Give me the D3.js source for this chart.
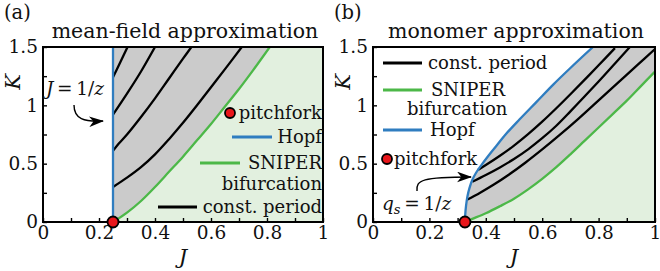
<!DOCTYPE html>
<html>
<head>
<meta charset="utf-8">
<script src="https://cdn.jsdelivr.net/npm/d3@7"></script>
<style>
  body { margin: 0; background: #fff; }
  text { font-family: "DejaVu Serif", serif; fill: #111; }
</style>
</head>
<body>
<svg id="chart" width="660" height="271"></svg>
<script>
// ---- data ----
const xMajor = [0, 0.2, 0.4, 0.6, 0.8, 1];
const xMinor = [0.1, 0.3, 0.5, 0.7, 0.9];
const yMajor = [0, 0.5, 1, 1.5];
const yMinor = [0.25, 0.75, 1.25];

// (a) mean-field
const mfHopfJ = 0.25;
const mfSniperJ = [0.25, 0.30, 0.35, 0.40, 0.45, 0.50, 0.55, 0.60, 0.65, 0.70, 0.75, 0.81];
const mfSniperK = [0, 0.08, 0.18, 0.30, 0.43, 0.56, 0.70, 0.84, 0.99, 1.14, 1.30, 1.50];
const mfPeriod = [
  { J: [0.25, 0.27, 0.29, 0.302], K: [1.24, 1.34, 1.44, 1.50] },
  { J: [0.25, 0.30, 0.35, 0.40], K: [0.92, 1.10, 1.29, 1.50] },
  { J: [0.25, 0.27, 0.30, 0.35, 0.40, 0.45, 0.50, 0.53], K: [0.61, 0.67, 0.75, 0.90, 1.06, 1.23, 1.40, 1.50] },
  { J: [0.25, 0.30, 0.35, 0.40, 0.45, 0.50, 0.55, 0.60, 0.65, 0.71], K: [0.30, 0.38, 0.47, 0.58, 0.71, 0.85, 1.00, 1.155, 1.31, 1.50] }
];
const mfPitchfork = [0.25, 0];

// (b) monomer
const moHopfJ = [0.326, 0.327, 0.330, 0.335, 0.342, 0.352, 0.365, 0.385, 0.41, 0.44, 0.47, 0.52, 0.58, 0.64, 0.70, 0.78];
const moHopfK = [0, 0.06, 0.14, 0.22, 0.29, 0.36, 0.42, 0.49, 0.57, 0.66, 0.75, 0.88, 1.03, 1.18, 1.32, 1.50];
const moSniperJ = [0.326, 0.35, 0.40, 0.45, 0.50, 0.55, 0.60, 0.65, 0.70, 0.75, 0.80, 0.85, 0.90, 0.95, 1.0];
const moSniperK = [0, 0.025, 0.075, 0.135, 0.20, 0.28, 0.37, 0.47, 0.58, 0.695, 0.81, 0.925, 1.04, 1.165, 1.29];
const moPeriod = [
  { J: [0.372, 0.40, 0.45, 0.50, 0.55, 0.60, 0.65, 0.70, 0.75, 0.80, 0.858],
    K: [0.446, 0.488, 0.568, 0.655, 0.753, 0.86, 0.975, 1.095, 1.218, 1.343, 1.49] },
  { J: [0.352, 0.40, 0.45, 0.50, 0.55, 0.60, 0.65, 0.70, 0.75, 0.80, 0.85, 0.911],
    K: [0.345, 0.403, 0.468, 0.540, 0.623, 0.718, 0.825, 0.948, 1.075, 1.205, 1.338, 1.50] },
  { J: [0.333, 0.38, 0.43, 0.48, 0.54, 0.60, 0.66, 0.73, 0.80, 0.87, 0.94, 1.0],
    K: [0.19, 0.251, 0.323, 0.403, 0.508, 0.622, 0.742, 0.889, 1.043, 1.197, 1.351, 1.483] }
];
const moPitchfork = [0.326, 0];

const colBlue = "#2f7dc0";
const colGreen = "#4cb848";
const colFill = "#e2f0df";
const colGray = "#cbcbcb";
const colRed = "#e8161b";

const svg = d3.select("#chart");
const zip = (a, b) => a.map((v, i) => [v, b[i]]);

function panel(opts) {
  const x = d3.scaleLinear().domain([0, 1]).range([opts.x0, opts.x1]);
  const y = d3.scaleLinear().domain([0, 1.5]).range([222, 47]);
  const g = svg.append("g");
  const line = d3.line().x(d => x(d[0])).y(d => y(d[1])).curve(d3.curveCatmullRom);
  const clipId = "clip" + opts.name;
  svg.append("clipPath").attr("id", clipId)
    .append("rect").attr("x", x(0)).attr("y", y(1.5))
    .attr("width", x(1) - x(0)).attr("height", y(0) - y(1.5));
  const inner = g.append("g").attr("clip-path", `url(#${clipId})`);

  const sn = zip(opts.sniperJ, opts.sniperK);
  const snEnd = sn[sn.length - 1];
  const rev = p => line(p.slice().reverse()).replace(/^M/, "L");

  // light green region right of SNIPER
  let gp = line(sn);
  if (snEnd[1] >= 1.5) gp += `L${x(1)},${y(1.5)}`;
  gp += `L${x(1)},${y(0)}Z`;
  inner.append("path").attr("d", gp).attr("fill", colFill);

  // grey oscillating region
  let hp;
  if (opts.hopfK) {
    const ho = zip(opts.hopfJ, opts.hopfK);
    hp = line(ho) + `L${x(1)},${y(1.5)}`;
    if (snEnd[1] < 1.5) hp += `L${x(1)},${y(snEnd[1])}`;
  } else {
    hp = `M${x(opts.hopfJ)},${y(0)}L${x(opts.hopfJ)},${y(1.5)}L${x(snEnd[0])},${y(1.5)}`;
  }
  hp += rev(sn) + "Z";
  inner.append("path").attr("d", hp).attr("fill", colGray);

  // constant period curves
  opts.period.forEach(c => {
    inner.append("path").attr("d", line(zip(c.J, c.K)))
      .attr("fill", "none").attr("stroke", "#000").attr("stroke-width", 2.3);
  });
  inner.append("path").attr("d", line(sn))
    .attr("fill", "none").attr("stroke", colGreen).attr("stroke-width", 2.3);
  if (opts.hopfK) {
    inner.append("path").attr("d", line(zip(opts.hopfJ, opts.hopfK)))
      .attr("fill", "none").attr("stroke", colBlue).attr("stroke-width", 2.3);
  } else {
    inner.append("line").attr("x1", x(opts.hopfJ)).attr("x2", x(opts.hopfJ))
      .attr("y1", y(0)).attr("y2", y(1.5))
      .attr("stroke", colBlue).attr("stroke-width", 2.3);
  }

  // axes, ticks pointing inward
  const fmt = d => d3.format("~g")(d);
  const xa = g.append("g").attr("transform", `translate(0,${y(0)})`)
    .call(d3.axisBottom(x).tickValues(xMajor).tickFormat(fmt).tickSizeInner(-4).tickSizeOuter(0).tickPadding(3));
  g.append("g").attr("transform", `translate(0,${y(0)})`)
    .call(d3.axisBottom(x).tickValues(xMinor).tickFormat("").tickSizeInner(-4).tickSizeOuter(0));
  const ya = g.append("g").attr("transform", `translate(${x(0)},0)`)
    .call(d3.axisLeft(y).tickValues(yMajor).tickFormat(fmt).tickSizeInner(-4).tickSizeOuter(0).tickPadding(5));
  g.append("g").attr("transform", `translate(${x(0)},0)`)
    .call(d3.axisLeft(y).tickValues(yMinor).tickFormat("").tickSizeInner(-4).tickSizeOuter(0));
  g.selectAll(".domain").remove();
  g.selectAll(".tick line").attr("stroke", "#000").attr("stroke-width", 1.4);
  xa.selectAll("text").attr("font-size", 18.5).attr("dy", "0.75em").attr("fill", "#111")
    .attr("font-family", "DejaVu Serif");
  ya.selectAll("text").attr("font-size", 18.5).attr("fill", "#111").attr("font-family", "DejaVu Serif");

  g.append("rect").attr("x", x(0)).attr("y", y(1.5))
    .attr("width", x(1) - x(0)).attr("height", y(0) - y(1.5))
    .attr("fill", "none").attr("stroke", "#000").attr("stroke-width", 2);

  // pitchfork point
  g.append("circle").attr("cx", x(opts.pitch[0])).attr("cy", y(opts.pitch[1])).attr("r", 5.5)
    .attr("fill", colRed).attr("stroke", "#000").attr("stroke-width", 1.8);

  // titles and labels
  g.append("text").attr("x", (x(0) + x(1)) / 2 + 2).attr("y", 38).attr("text-anchor", "middle")
    .attr("font-size", 20.5).text(opts.title);
  g.append("text").attr("x", opts.x0 - 39).attr("y", 19).attr("font-size", 19.5).text(opts.tag);
  g.append("text").attr("transform", `translate(${opts.x0 - 23},${y(1.2)}) rotate(-90)`)
    .attr("text-anchor", "middle").attr("font-size", 21).attr("font-style", "italic").text("K");
  g.append("text").attr("x", (x(0) + x(1)) / 2).attr("y", 264).attr("text-anchor", "middle")
    .attr("font-size", 21).attr("font-style", "italic").text("J");
  return { g, x, y };
}

const A = panel({
  name: "a", x0: 43, x1: 323, title: "mean-field approximation", tag: "(a)",
  hopfJ: mfHopfJ, sniperJ: mfSniperJ, sniperK: mfSniperK, period: mfPeriod, pitch: mfPitchfork
});
const B = panel({
  name: "b", x0: 373, x1: 655, title: "monomer approximation", tag: "(b)",
  hopfJ: moHopfJ, hopfK: moHopfK, sniperJ: moSniperJ, sniperK: moSniperK, period: moPeriod, pitch: moPitchfork
});

// legends
function legendLine(g, x1, x2, y, color) {
  g.append("line").attr("x1", x1).attr("x2", x2).attr("y1", y).attr("y2", y)
    .attr("stroke", color).attr("stroke-width", 3);
}
function label(g, x, y, t, anchor) {
  return g.append("text").attr("x", x).attr("y", y).attr("dy", "0.35em")
    .attr("text-anchor", anchor || "start").attr("font-size", 18).text(t);
}
// (a) right aligned
const la = A.g;
la.append("circle").attr("cx", 230).attr("cy", 113).attr("r", 5).attr("fill", colRed)
  .attr("stroke", "#000").attr("stroke-width", 1.8);
label(la, 322, 113, "pitchfork", "end");
legendLine(la, 232, 272, 137, colBlue);
label(la, 322, 137, "Hopf", "end");
legendLine(la, 200, 240, 163, colGreen);
label(la, 322, 163, "SNIPER", "end");
label(la, 322, 184, "bifurcation", "end");
legendLine(la, 158, 197, 207, "#000");
label(la, 322, 207, "const. period", "end");

// (b) left aligned
const lb = B.g;
legendLine(lb, 383, 422, 63, "#000");
label(lb, 428, 63, "const. period");
legendLine(lb, 383, 422, 90, colGreen);
label(lb, 431, 90, "SNIPER");
label(lb, 407, 109, "bifurcation");
legendLine(lb, 383, 422, 130, colBlue);
label(lb, 430, 130, "Hopf");
lb.append("circle").attr("cx", 387).attr("cy", 159).attr("r", 5).attr("fill", colRed)
  .attr("stroke", "#000").attr("stroke-width", 1.8);
label(lb, 394, 159, "pitchfork");

// annotations with arrows
const defs = svg.append("defs");
defs.append("marker").attr("id", "head").attr("viewBox", "0 0 14 10")
  .attr("refX", 13).attr("refY", 5)
  .attr("orient", "auto").attr("markerUnits", "userSpaceOnUse")
  .attr("markerWidth", 15).attr("markerHeight", 11)
  .append("path").attr("d", "M0,0 L14,5 L0,10 L4,5 Z").attr("fill", "#000");

const tA = la.append("text").attr("x", 46).attr("y", 95).attr("font-size", 18.5);
tA.append("tspan").attr("font-style", "italic").text("J");
tA.append("tspan").text("\u2009=\u20091/");
tA.append("tspan").attr("font-style", "italic").text("z");
la.append("path").attr("d", "M74,105 C74,119 84,122 103,121")
  .attr("fill", "none").attr("stroke", "#000").attr("stroke-width", 1.4).attr("marker-end", "url(#head)");

const tB = lb.append("text").attr("x", 382).attr("y", 210).attr("font-size", 18.5);
tB.append("tspan").attr("font-style", "italic").text("q");
tB.append("tspan").attr("font-style", "italic").attr("font-size", 13).attr("dy", 4).text("s");
tB.append("tspan").attr("dy", -4).text("\u2009=\u20091/");
tB.append("tspan").attr("font-style", "italic").text("z");
lb.append("path").attr("d", "M417,191 C416,180 422,177 471,177")
  .attr("fill", "none").attr("stroke", "#000").attr("stroke-width", 1.4).attr("marker-end", "url(#head)");
</script>
</body>
</html>
